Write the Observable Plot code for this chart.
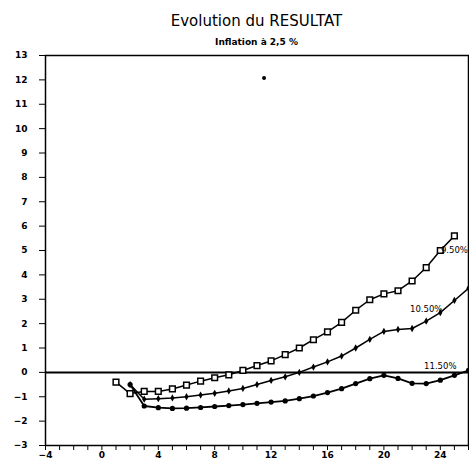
<!DOCTYPE html>
<html><head><meta charset="utf-8">
<script src="https://cdn.jsdelivr.net/npm/d3@7"></script>
<script src="https://cdn.jsdelivr.net/npm/@observablehq/plot@0.6"></script>
<style>
body{margin:0;background:#fff;width:469px;height:473px;overflow:hidden;font-family:"DejaVu Sans",sans-serif;color:#000;position:relative;}
#title{position:absolute;left:45px;width:423px;top:11px;text-align:center;font-size:15px;line-height:20px;}
#sub{position:absolute;left:45px;width:423px;top:36px;text-align:center;font-size:9px;font-weight:bold;line-height:12px;}
#chart{position:absolute;top:48px;left:0;}
</style></head><body>
<div id="title">Evolution du RESULTAT</div>
<div id="sub">Inflation à 2,5 %</div>
<div id="chart"></div>
<script>
// Series 9.50 % (open squares)
const xSquare = [1,2,3,4,5,6,7,8,9,10,11,12,13,14,15,16,17,18,19,20,21,22,23,24,25];
const ySquare = [-0.4,-0.87,-0.78,-0.78,-0.68,-0.52,-0.36,-0.22,-0.1,0.08,0.28,0.47,0.73,1.0,1.34,1.66,2.05,2.55,2.98,3.22,3.35,3.75,4.3,5.0,5.6];
// Series 10.50 % (small diamonds)
const xDiamond = [2,3,4,5,6,7,8,9,10,11,12,13,14,15,16,17,18,19,20,21,22,23,24,25,26];
const yDiamond = [-0.5,-1.1,-1.08,-1.05,-1.0,-0.93,-0.86,-0.76,-0.66,-0.5,-0.33,-0.18,0.0,0.22,0.43,0.67,1.0,1.35,1.68,1.76,1.8,2.1,2.45,2.95,3.45];
// Series 11.50 % (filled dots)
const xCircle = [2,3,4,5,6,7,8,9,10,11,12,13,14,15,16,17,18,19,20,21,22,23,24,25,26];
const yCircle = [-0.5,-1.38,-1.45,-1.48,-1.47,-1.44,-1.4,-1.36,-1.32,-1.27,-1.22,-1.17,-1.08,-0.97,-0.83,-0.67,-0.46,-0.26,-0.12,-0.25,-0.45,-0.46,-0.32,-0.12,0.08];
// Stray point
const xStray = [11.5];
const yStray = [12.08];
// Series labels
const labelText = ["9.50%","10.50%","11.50%"];
const labelX = [25.0, 23, 24];
const labelY = [4.95, 2.55, 0.22];
// Ticks
const xTicks = [-4,-3,-2,-1,0,1,2,3,4,5,6,7,8,9,10,11,12,13,14,15,16,17,18,19,20,21,22,23,24,25,26];
const xLabels = [-4,0,4,8,12,16,20,24];
const yTicks = [-3,-2,-1,0,1,2,3,4,5,6,7,8,9,10,11,12,13];

const sq = xSquare.map((x,i)=>({x, y:ySquare[i]}));
const di = xDiamond.map((x,i)=>({x, y:yDiamond[i]}));
const ci = xCircle.map((x,i)=>({x, y:yCircle[i]}));
const st = xStray.map((x,i)=>({x, y:yStray[i]}));
const lab = labelText.map((t,i)=>({t, x:labelX[i], y:labelY[i]}));

const chart = Plot.plot({
  width: 469, height: 425,
  marginLeft: 45, marginRight: 1, marginTop: 7, marginBottom: 28,
  x: {domain: [-4, 26]},
  y: {domain: [-3, 13]},
  style: {fontFamily: "DejaVu Sans", fontSize: "9px", fontWeight: "bold", color: "black", background: "white", overflow: "visible"},
  marks: [
    Plot.axisY({ticks: yTicks, tickSize: 6, tickPadding: 12, label: null, tickFormat: d => String(d).replace("-", "−")}),
    Plot.axisX({ticks: xTicks, tickSize: 5, tickFormat: () => "", label: null}),
    Plot.axisX({ticks: xLabels, tickSize: 0, tickPadding: 6, label: null}),
    Plot.frame({stroke: "black", strokeWidth: 1.5}),
    Plot.ruleY([0], {stroke: "black", strokeWidth: 2}),
    Plot.line(sq, {x: "x", y: "y", stroke: "black", strokeWidth: 1.5}),
    Plot.line(di, {x: "x", y: "y", stroke: "black", strokeWidth: 1.5, clip: true}),
    Plot.line(ci, {x: "x", y: "y", stroke: "black", strokeWidth: 1.8, clip: true}),
    Plot.dot(di, {x: "x", y: "y", symbol: "diamond", r: 2.2, fill: "black", clip: true}),
    Plot.dot(ci, {x: "x", y: "y", symbol: "circle", r: 2.6, fill: "black", clip: true}),
    Plot.dot(sq, {x: "x", y: "y", symbol: "square", r: 3.2, fill: "white", stroke: "black", strokeWidth: 1.5}),
    Plot.dot(st, {x: "x", y: "y", symbol: "circle", r: 2, fill: "black"}),
    Plot.text(lab, {x: "x", y: "y", text: "t", fontSize: 8.5, fontWeight: "normal", textAnchor: "middle", dy: -1})
  ]
});
document.getElementById("chart").appendChild(chart);
</script>
</body></html>
